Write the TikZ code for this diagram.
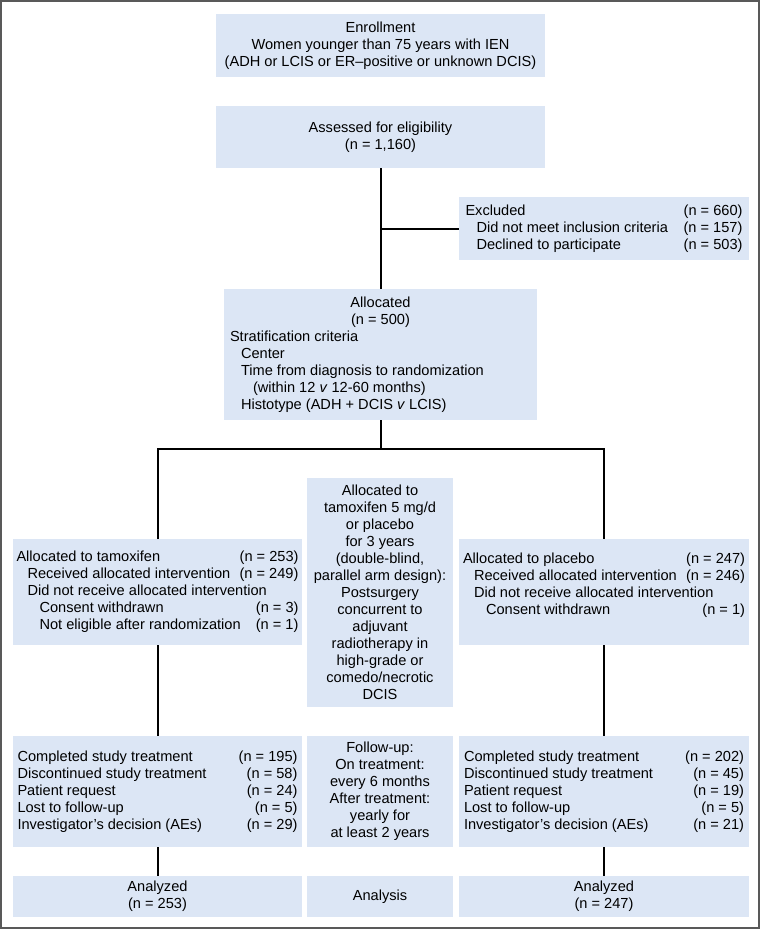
\documentclass[tikz,border=0pt]{standalone}
\usepackage{fontspec}
\setmainfont{Liberation Sans}
\definecolor{boxblue}{RGB}{220,230,245}
\tikzset{
  box/.style={fill=boxblue, inner sep=0pt, outer sep=0pt, font=\fontsize{14.6}{17}\selectfont},
  conn/.style={line width=2pt, draw=black}
}
\newcommand\rw[4]{\hbox to #1{\hspace*{#2}#3\hfill\hspace{3pt}#4}}
\begin{document}
\begin{tikzpicture}[x=1pt,y=-1pt]
\useasboundingbox (0,0) rectangle (762,930);
\draw[line width=2pt, draw=black!65] (1,1) rectangle (759,928);

\node[box, minimum width=329pt, minimum height=63pt, align=center] (enroll) at (380.5,45.5)
  {Enrollment\\Women younger than 75 years with IEN\\(ADH or LCIS or ER–positive or unknown DCIS)};
\node[box, minimum width=329pt, minimum height=62pt, align=center] (assess) at (380.5,137)
  {Assessed for eligibility\\(n = 1,160)};
\node[box, minimum width=290pt, minimum height=63pt, align=left] (excl) at (604,228.5)
  {\rw{277pt}{0pt}{Excluded}{(n = 660)}\\
   \rw{277pt}{11pt}{Did not meet inclusion criteria}{(n = 157)}\\
   \rw{277pt}{11pt}{Declined to participate}{(n = 503)}};
\node[box, minimum width=313pt, minimum height=131pt, align=left] (alloc) at (380.5,354.5)
  {\hbox to 301pt{\hfil Allocated\hfil}\\
   \hbox to 301pt{\hfil (n = 500)\hfil}\\
   \rw{301pt}{0pt}{Stratification criteria}{}\\
   \rw{301pt}{11pt}{Center}{}\\
   \rw{301pt}{11pt}{Time from diagnosis to randomization}{}\\
   \rw{301pt}{23pt}{(within 12 \textit{v} 12-60 months)}{}\\
   \rw{301pt}{11pt}{Histotype (ADH + DCIS \textit{v} LCIS)}{}};

\node[box, minimum width=289pt, minimum height=106pt, align=left] (tam) at (157.5,592)
  {\rw{282pt}{0pt}{Allocated to tamoxifen}{(n = 253)}\\
   \rw{282pt}{11pt}{Received allocated intervention}{(n = 249)}\\
   \rw{282pt}{11pt}{Did not receive allocated intervention}{}\\
   \rw{282pt}{23pt}{Consent withdrawn}{(n = 3)}\\
   \rw{282pt}{23pt}{Not eligible after randomization}{(n = 1)}};
\node[box, minimum width=146pt, minimum height=229pt, align=center] (mid) at (380,592.5)
  {Allocated to\\tamoxifen 5 mg/d\\or placebo\\for 3 years\\(double-blind,\\parallel arm design):\\Postsurgery\\concurrent to\\adjuvant\\radiotherapy in\\high-grade or\\comedo/necrotic\\DCIS};
\node[box, minimum width=290pt, minimum height=106pt, align=left] (plac) at (604,592)
  {\rw{282pt}{0pt}{Allocated to placebo}{(n = 247)}\\
   \rw{282pt}{11pt}{Received allocated intervention}{(n = 246)}\\
   \rw{282pt}{11pt}{Did not receive allocated intervention}{}\\
   \rw{282pt}{23pt}{Consent withdrawn}{(n = 1)}\\
   \hbox{}};

\node[box, minimum width=289pt, minimum height=111pt, align=left] (tamc) at (157.5,791.5)
  {\rw{280pt}{0pt}{Completed study treatment}{(n = 195)}\\
   \rw{280pt}{0pt}{Discontinued study treatment}{(n = 58)}\\
   \rw{280pt}{0pt}{Patient request}{(n = 24)}\\
   \rw{280pt}{0pt}{Lost to follow-up}{(n = 5)}\\
   \rw{280pt}{0pt}{Investigator’s decision (AEs)}{(n = 29)}};
\node[box, minimum width=146pt, minimum height=111pt, align=center] (fu) at (380,791.5)
  {Follow-up:\\On treatment:\\every 6 months\\After treatment:\\yearly for\\at least 2 years};
\node[box, minimum width=290pt, minimum height=111pt, align=left] (placc) at (604,791.5)
  {\rw{280pt}{0pt}{Completed study treatment}{(n = 202)}\\
   \rw{280pt}{0pt}{Discontinued study treatment}{(n = 45)}\\
   \rw{280pt}{0pt}{Patient request}{(n = 19)}\\
   \rw{280pt}{0pt}{Lost to follow-up}{(n = 5)}\\
   \rw{280pt}{0pt}{Investigator’s decision (AEs)}{(n = 21)}};

\node[box, minimum width=289pt, minimum height=41pt, align=center] (tama) at (157.5,896.5)
  {Analyzed\\(n = 253)};
\node[box, minimum width=146pt, minimum height=41pt, align=center] (ana) at (380,896.5)
  {Analysis};
\node[box, minimum width=290pt, minimum height=41pt, align=center] (placa) at (604,896.5)
  {Analyzed\\(n = 247)};

\coordinate (hy) at (0,449);
\coordinate (j1) at (assess.south |- excl.west);
\coordinate (split) at (alloc.south |- hy);
\draw[conn] (assess.south) -- (alloc.north);
\draw[conn] (j1) -- (excl.west);
\draw[conn] (alloc.south) -- (split);
\draw[conn] (tam.north) |- (split) -| (plac.north);
\draw[conn] (tam.south) -- (tamc.north);
\draw[conn] (tamc.south) -- (tama.north);
\draw[conn] (plac.south) -- (placc.north);
\draw[conn] (placc.south) -- (placa.north);
\end{tikzpicture}
\end{document}
